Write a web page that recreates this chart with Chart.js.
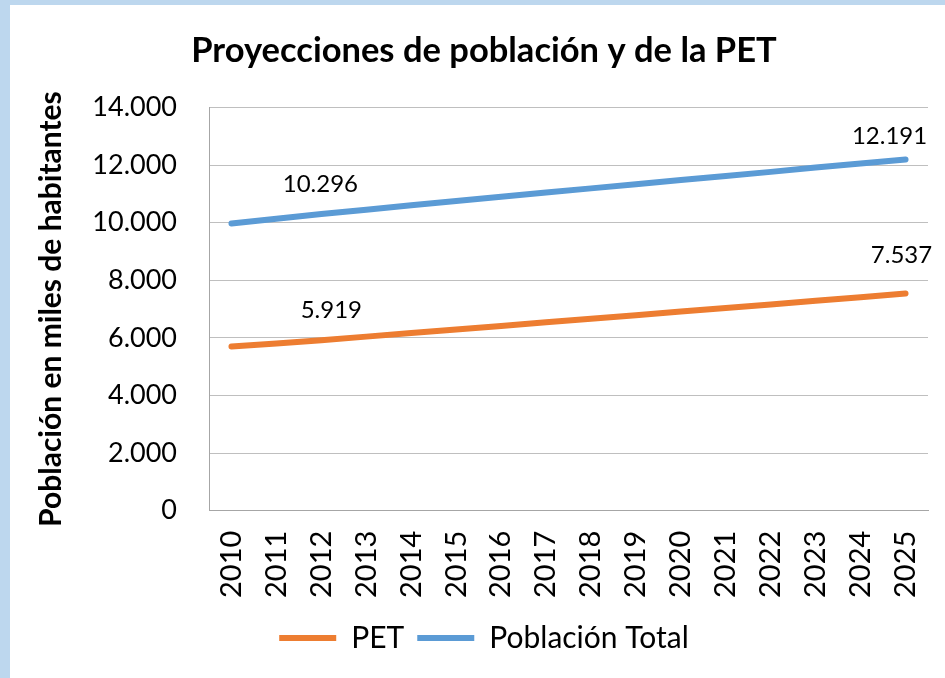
<!DOCTYPE html>
<html>
<head>
<meta charset="utf-8">
<script src="https://cdn.jsdelivr.net/npm/chart.js@4/dist/chart.umd.min.js"></script>
<style>
  html, body { margin: 0; padding: 0; background: #bdd7ee; }
  #wrap { position: absolute; left: 10px; top: 5px; width: 935px; height: 673px; background: #fff; }
</style>
</head>
<body>
<div id="wrap"><canvas id="chart" width="935" height="673"></canvas></div>
<script>
const years = ['2010','2011','2012','2013','2014','2015','2016','2017','2018','2019','2020','2021','2022','2023','2024','2025'];
const pet = [5697, 5808, 5919, 6043, 6168, 6292, 6416, 6540, 6664, 6788, 6912, 7036, 7160, 7286, 7412, 7537];
const poblacionTotal = [9970, 10133, 10296, 10448, 10600, 10750, 10898, 11044, 11189, 11334, 11478, 11620, 11762, 11910, 12055, 12191];
// which points get a value label: [dataset index, point index, dx, dy]
const labelledPoints = [[1, 2, -1, -30], [0, 2, 10, -30], [1, 15, -16, -23], [0, 15, -4, -38]];

const fmt = (v) => String(Math.round(v)).replace(/\B(?=(\d{3})+(?!\d))/g, '.');
const font = 'Lato, Carlito, sans-serif';

const valueLabels = {
  id: 'valueLabels',
  afterDatasetsDraw(chart) {
    const ctx = chart.ctx;
    ctx.save();
    ctx.font = '24px ' + font;
    ctx.fillStyle = '#000';
    ctx.textAlign = 'center';
    ctx.textBaseline = 'middle';
    labelledPoints.forEach(([ds, i, dx, dy]) => {
      const pt = chart.getDatasetMeta(ds).data[i];
      const v = chart.data.datasets[ds].data[i];
      ctx.fillText(fmt(v), pt.x + dx, pt.y + dy);
    });
    ctx.restore();
  }
};

new Chart('chart', {
  type: 'line',
  data: {
    labels: years,
    datasets: [
      { label: 'PET', data: pet, borderColor: '#ed7d31', backgroundColor: '#ed7d31', borderWidth: 6, pointRadius: 0, borderCapStyle: 'round', tension: 0 },
      { label: 'Población Total', data: poblacionTotal, borderColor: '#5b9bd5', backgroundColor: '#5b9bd5', borderWidth: 6, pointRadius: 0, borderCapStyle: 'round', tension: 0 }
    ]
  },
  options: {
    responsive: false,
    animation: false,
    layout: { padding: { left: 30, right: 17, top: 10, bottom: 15 } },
    plugins: {
      title: {
        display: true,
        text: 'Proyecciones de población y de la PET',
        color: '#000',
        font: { family: font, size: 34.5, weight: 'bold' },
        padding: { top: 15, bottom: 36 }
      },
      legend: {
        position: 'bottom',
        labels: {
          color: '#000',
          font: { family: font, size: 30 },
          usePointStyle: true,
          pointStyle: 'line',
          pointStyleWidth: 57,
          boxWidth: 57,
          padding: 13
        }
      },
      tooltip: { enabled: false }
    },
    scales: {
      x: {
        offset: true,
        afterFit: (scale) => { scale.paddingLeft = 0; scale.paddingRight = 0; },
        grid: { display: false },
        border: { display: true, color: '#a6a6a6', width: 1 },
        ticks: { color: '#000', font: { family: font, size: 29 }, minRotation: 90, maxRotation: 90, autoSkip: false, padding: 12 }
      },
      y: {
        min: 0,
        max: 14000,
        afterFit: (scale) => { scale.width = 169; },
        grid: { color: '#bfbfbf', drawTicks: false },
        border: { display: true, color: '#a6a6a6', width: 1 },
        ticks: { stepSize: 2000, color: '#000', font: { family: font, size: 27 }, padding: 32, callback: (v) => fmt(v) },
        title: {
          display: true,
          text: 'Población en miles de habitantes',
          color: '#000',
          font: { family: font, size: 30, weight: 'bold' },
          padding: { top: -7, bottom: 0 }
        }
      }
    }
  },
  plugins: [valueLabels]
});
</script>
</body>
</html>
